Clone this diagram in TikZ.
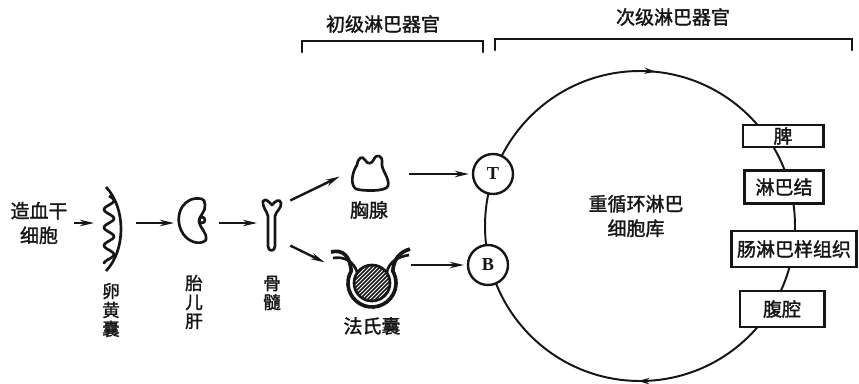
\documentclass[tikz,border=0pt]{standalone}
\usepackage{fontspec}
\setmainfont{Noto Sans CJK SC}[AutoFakeBold=1.6]
\newfontfamily\latinserif{Liberation Serif}
\usetikzlibrary{arrows.meta, decorations.markings}
\definecolor{cink}{HTML}{161616}
\tikzset{
  every picture/.style={line width=1.4pt, color=cink},
  txt/.style={font=\bfseries\fontsize{13.5}{17.5}\selectfont, align=center, inner sep=0pt},
  vtxt/.style={font=\bfseries\fontsize{12.5}{13.5}\selectfont, align=center, inner sep=0pt},
  spot/.style 2 args={inner sep=0pt, minimum width=#1, minimum height=#2},
  organ/.style={line width=1.9pt, line join=round},
  cell/.style={circle, draw, fill=white, line width=1.7pt, minimum size=1cm, inner sep=0pt, font=\latinserif\bfseries\fontsize{13}{13}\selectfont},
  site/.style={draw, fill=white, line width=2.1pt, inner sep=0pt, font=\bfseries\fontsize{13.5}{13.5}\selectfont},
  arrow/.style={-{Stealth[length=10pt, width=4.5pt]}, line width=1.7pt, shorten <=4.2pt, shorten >=4.2pt},
  brace/.style={line width=2pt, line cap=round},
  recirc/.style={line width=1.4pt, postaction=decorate, decoration={markings,
    mark=at position 0.252 with {\arrow{Stealth[length=8pt, width=4.5pt]}},
    mark=at position 0.766 with {\arrow{Stealth[length=8pt, width=4.5pt]}}}},
}

\begin{document}
\begin{tikzpicture}[x=0.025cm, y=-0.025cm]
  \useasboundingbox (0,0) rectangle (859,383);

  % recirculating pool
  \draw[recirc] (640,226) circle[radius=155];
  \node[txt] (pool) at (636,216) {重循环淋巴\\细胞库};

  \node[txt] (primary) at (383,24) {初级淋巴器官};
  \node[txt] (secondary) at (673,17) {次级淋巴器官};
  \draw[brace] (302,52) -- (302,41) -- (483,41) -- (483,52);
  \draw[brace] (495,50) -- (495,39) -- (852,39) -- (852,50);

  % stem cell source and early sites
  \node[txt] (stem) at (39,223) {造血干\\细胞};
  \node[spot={0.7cm}{2cm}] (yolk) at (115,223) {};
  \draw[organ] (106,187) .. controls (126,208) and (126,250) .. (106,271);
  \draw[organ] plot[smooth, domain=0:68, samples=50] ({109+5*sin(20*\x)}, {196+\x});
  \node[vtxt] (yolklab) at (111,310) {卵\\黄\\囊};

  \node[spot={0.775cm}{1.2cm}] (liver) at (196.5,223) {};
  \draw[organ] (202,199) .. controls (184,195) and (174,214) .. (181,230)
    .. controls (186,242) and (200,246) .. (206,240)
    .. controls (208,234) and (200,228) .. (199,222)
    .. controls (199,215) and (206,212) .. (205,205)
    .. controls (205,202) and (204,199) .. (202,199) -- cycle;
  \draw[organ] (202,220) circle[radius=3];
  \node[vtxt] (liverlab) at (194,302) {胎\\儿\\肝};

  \node[spot={0.5cm}{0.95cm}] (bone) at (274,223) {};
  \draw[organ] (263,201) .. controls (266,198) and (269,202) .. (272,205)
    .. controls (275,201) and (280,198) .. (281,203)
    .. controls (282,208) and (276,211) .. (275,216) -- (275,246)
    .. controls (275,252) and (268,252) .. (268,246) -- (268,216)
    .. controls (267,211) and (262,207) .. (263,201) -- cycle;
  \node[vtxt] (bonelab) at (272,293) {骨\\髓};

  % primary organs
  \node[spot={1.4cm}{0.9cm}] (thymus) at (374,174) {};
  \draw[organ] (356,189) .. controls (350,185) and (352,172) .. (357,165)
    .. controls (358,158) and (362,155) .. (365,160)
    .. controls (368,165) and (372,164) .. (374,159)
    .. controls (377,153) and (383,156) .. (382,163)
    .. controls (381,170) and (390,178) .. (388,186)
    .. controls (386,192) and (362,191) .. (356,189) -- cycle;
  \node[txt] (thymlab) at (369,210) {胸腺};

  \node[spot={1.825cm}{1cm}] (bursa) at (367.5,265) {};
  \begin{scope}
    \clip (372,283) circle[radius=18];
    \foreach \k in {-40,-36,...,40}
      \draw[line width=1.2pt] ({372+\k-22},305) -- ({372+\k+22},261);
  \end{scope}
  \draw[organ] (372,283) circle[radius=18];
  \draw[organ, line width=2.6pt] (331,252) .. controls (343,249) and (350,256) .. (351.2,271)
    arc[start angle=-150, end angle=-390, radius=24]
    .. controls (394,258) and (400,252) .. (410,249);
  \draw[organ] (333,258) .. controls (345,256) and (354,262) .. (357.3,272.7);
  \draw[organ] (386.7,272.7) .. controls (389,262) and (397,257) .. (409,255);
  \node[txt] (burslab) at (372,326) {法氏囊};

  \node[cell] (T) at (493,174) {T};
  \node[cell] (B) at (488,265) {B};

  % secondary organs on the circuit
  \foreach \n/\t/\x/\y/\w/\h in {spleen/脾/783/136/2/0.55, lnode/淋巴结/784/187/1.975/0.825,
      gut/肠淋巴样组织/794/249/3.125/0.9, cavity/腹腔/782/309/2.1/0.9}
    \node[site, minimum width=\w cm, minimum height=\h cm] (\n) at (\x,\y) {\t};

  \draw[arrow] (stem) -- (yolk);
  \draw[arrow] (yolk) -- (liver);
  \draw[arrow] (liver) -- (bone);
  \draw[arrow] (bone.north east) -- (thymus.west);
  \draw[arrow] (bone.south east) -- (bursa.west);
  \draw[arrow, shorten >=2pt] (T -| thymus.east) -- (T);
  \draw[arrow, shorten >=2pt] (B -| bursa.east) -- (B);
\end{tikzpicture}
\end{document}
